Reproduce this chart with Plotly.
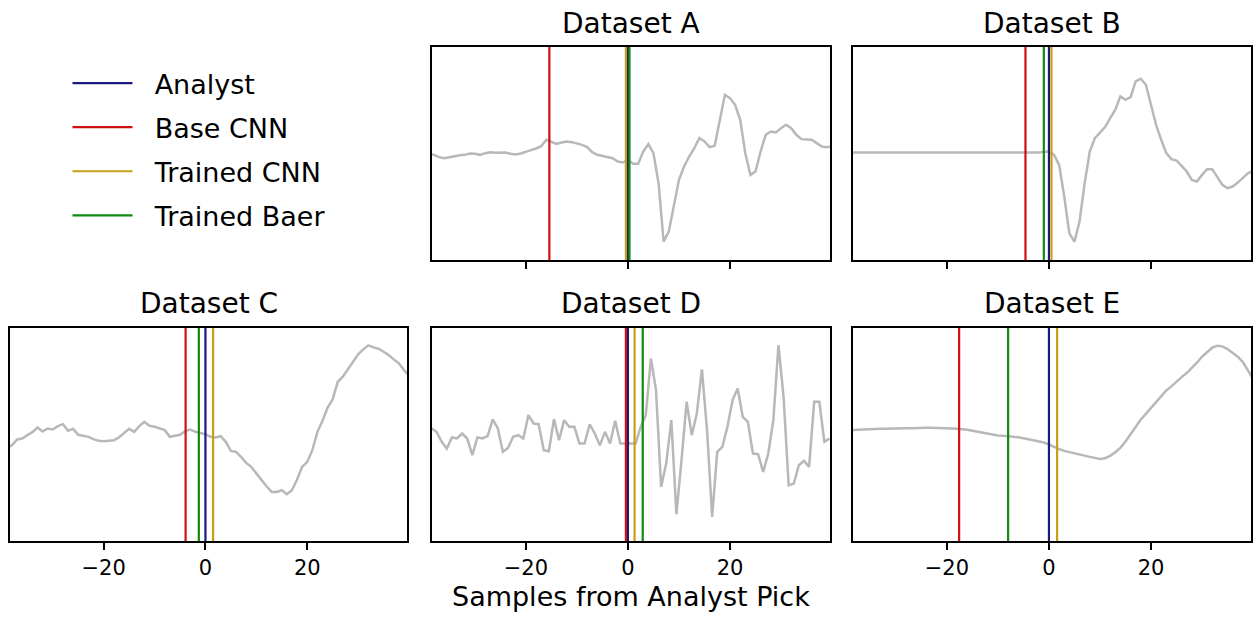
import plotly.graph_objects as go

# ---------------- data ----------------
panel_names = ["Dataset A", "Dataset B", "Dataset C", "Dataset D", "Dataset E"]
pick_names = ["Analyst", "Base CNN", "Trained CNN", "Trained Baer"]

x_int = list(range(-39, 41))
x_half = [k + 0.5 for k in range(-40, 40)]

wave_a = [-2, -4, -11, -14, -11, -7, -5, -4, 0, -1,
          -4, 1, 4, 2, 3, 3, -1, -3, 0, 4,
          10, 15, 22, 41, 34, 29, 33, 36, 34, 31,
          26, 19, 4, -4, -7, -11, -14, -24, -27,
          -19, -31, -31, 6, 28, 1, -89, -264, -234, -159,
          -79, -39, -9, 16, 46, 36, 19, 23, 101, 176,
          166, 146, 101, 1, -64, -54, 6, 56, 66, 63,
          76, 86, 76, 56, 43, 41, 41, 31, 21, 19,
          22]
wave_b = [3, 3, 2, 3, 3, 3, 2, 2, 3, 3,
          3, 3, 2, 2, 2, 3, 3, 3, 3, 2,
          2, 3, 3, 3, 3, 3, 3, 3, 4, 4,
          3, 3, 3, 3, 3, 4, 3, 3, 5,
          6, -4, -34, -129, -239, -264, -204, -89, 6, 46,
          61, 79, 106, 131, 171, 161, 169, 216, 224, 206,
          146, 86, 41, 1, -17, -21, -37, -54, -79, -84,
          -64, -47, -47, -69, -94, -104, -99, -87, -74, -59,
          -52]
wave_c = [-40,
          -32, -15, -12, -2, 7, 21, 9, 18, 15,
          25, 31, 11, 17, -1, -4, -7, -14, -19, -20,
          -19, -17, -9, 3, 17, 8, 25, 38, 26, 23,
          17, 13, -7, -5, -1, 10, 15, 8, 5,
          1, -7, -9, -5, -22, -49, -52, -67, -85, -97,
          -117, -135, -155, -172, -172, -167, -179, -167, -135, -97,
          -82, -47, 8, 41, 81, 105, 158, 173, 195, 218,
          240, 255, 267, 261, 257, 248, 238, 225, 213, 193,
          175]
wave_d = [23, 18, 8, -22, -42, -9, -12, 3, -12, -62,
          -9, -12, -5, 45, 18, -52, -40, -7, -2, -12,
          58, 33, 31, -47, -50, 46, -17, 43, 23, 23,
          -27, -27, 30, 3, -32, 8, -27, 41, -27, -27,
          -29, -27, 23, 58, 228, 133, -157, -87, 43, -239,
          -77, 98, -2, 63, 195, 13, -247, -52, -37, 23,
          103, 138, 53, 38, -57, -59, -112, -57, 43, 268,
          113, -152, -147, -92, -79, -97, 98, 98, -22, -12]
wave_e = [13,
          14, 15, 16, 16, 17, 17, 17, 18, 18,
          18, 19, 19, 20, 20, 20, 20, 20, 19, 19,
          18, 17, 16, 14, 11, 8, 5, 2, 0, -3,
          -4, -5, -6, -8, -11, -14, -17, -20, -24,
          -30, -38, -44, -49, -53, -56, -60, -64, -67, -70,
          -73, -71, -64, -53, -40, -21, 0, 22, 45, 62,
          80, 99, 116, 132, 144, 159, 172, 184, 198, 215,
          233, 247, 260, 266, 264, 256, 245, 233, 217, 192,
          167]

waves_x = [x_int, x_int, x_int, x_half, x_int]
waves_y = [wave_a, wave_b, wave_c, wave_d, wave_e]

# pick positions (samples from analyst pick): Analyst, Base CNN, Trained CNN, Trained Baer
picks_analyst = [0, 0, 0, 0, 0]
picks_base = [-15.4, -4.6, -3.9, -0.4, -17.6]
picks_trained_cnn = [-0.4, 0.5, 1.5, 1.3, 1.6]
picks_trained_baer = [0.3, -1.0, -1.3, 2.9, -8.0]
picks = [picks_analyst, picks_base, picks_trained_cnn, picks_trained_baer]

tick_vals = [-20, 0, 20]
tick_text = ["\u221220", "0", "20"]

# ---------------- style ----------------
W, H = 1259, 618
pick_colors = ["#1a1a80", "#d01010", "#c8a015", "#108a10"]
wave_color = "#b8b8b8"
FONT = "DejaVu Sans"
Y_HALF = 319
X_RANGE = [-38.4, 39.6]
NBSP = "\u00a0"

col_px = [(10, 407), (432, 830), (853, 1251)]
row_px = [(47, 260), (328, 541)]
panel_cells = [(0, 1), (0, 2), (1, 0), (1, 1), (1, 2)]

fig = go.Figure()
layout = dict(
    width=W, height=H, margin=dict(l=0, r=0, t=0, b=0),
    paper_bgcolor="white", plot_bgcolor="white",
    font=dict(family=FONT, color="black"),
    showlegend=True,
    legend=dict(
        x=0.0536, y=1 - 59 / H, xanchor="left", yanchor="top",
        font=dict(size=27, family=FONT, color="black"),
        bgcolor="rgba(0,0,0,0)", borderwidth=0,
        traceorder="grouped", tracegroupgap=6, itemwidth=60,
    ),
    annotations=[],
)

for i, (r, c) in enumerate(panel_cells):
    n = "" if i == 0 else str(i + 1)
    xa, ya = "x" + n, "y" + n
    x0, x1 = col_px[c]
    y0, y1 = row_px[r]
    layout["xaxis" + n] = dict(
        domain=[x0 / W, x1 / W], anchor=ya, range=X_RANGE,
        showline=True, linecolor="black", linewidth=1.5, mirror=True,
        ticks="outside", ticklen=7, tickwidth=1.5, tickcolor="black",
        tickvals=tick_vals, ticktext=tick_text,
        showticklabels=(r == 1), tickfont=dict(size=21, family=FONT, color="black"),
        showgrid=False, zeroline=False,
    )
    layout["yaxis" + n] = dict(
        domain=[1 - y1 / H, 1 - y0 / H], anchor=xa, range=[-Y_HALF, Y_HALF],
        showline=True, linecolor="black", linewidth=1.5, mirror=True,
        ticks="", showticklabels=False, showgrid=False, zeroline=False,
    )
    title_y = 23 if r == 0 else 304
    layout["annotations"].append(dict(
        text=panel_names[i], x=(x0 + x1) / 2 / W, y=1 - title_y / H,
        xref="paper", yref="paper", xanchor="center", yanchor="middle",
        showarrow=False, font=dict(size=28, family=FONT, color="black"),
    ))

    fig.add_trace(go.Scatter(
        x=waves_x[i], y=waves_y[i], mode="lines", xaxis=xa, yaxis=ya,
        line=dict(color=wave_color, width=2.5), showlegend=False, hoverinfo="skip",
    ))
    for k, name in enumerate(pick_names):
        p = picks[k][i]
        fig.add_trace(go.Scatter(
            x=[p, p], y=[-Y_HALF * 1.2, Y_HALF * 1.2], mode="lines",
            xaxis=xa, yaxis=ya, line=dict(color=pick_colors[k], width=2.2),
            name=NBSP * 2 + name, legendgroup=name, legendrank=k + 1,
            showlegend=(i == 0),
        ))

layout["annotations"].append(dict(
    text="Samples from Analyst Pick", x=(432 + 830) / 2 / W, y=1 - 596 / H,
    xref="paper", yref="paper", xanchor="center", yanchor="middle",
    showarrow=False, font=dict(size=27, family=FONT, color="black"),
))

fig.update_layout(**layout)
fig.write_html("out.html")
